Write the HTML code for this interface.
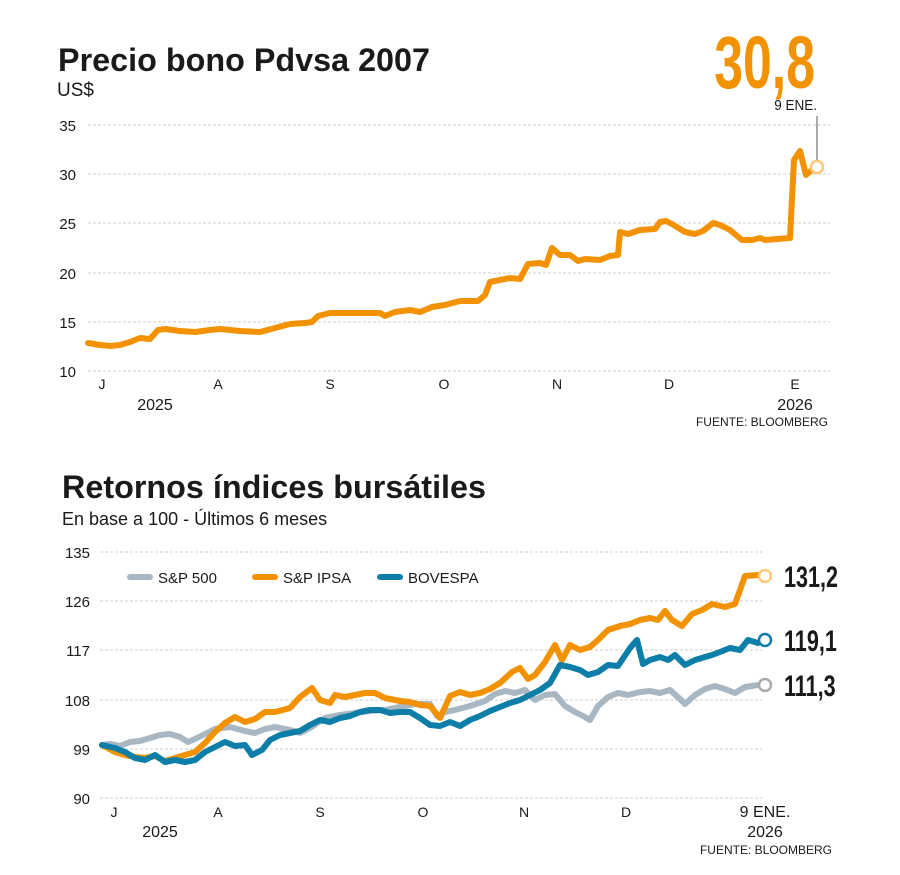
<!DOCTYPE html>
<html><head><meta charset="utf-8"><style>
body{margin:0;background:#fff;}
svg text{font-family:"Liberation Sans",sans-serif;}
.c{font-family:"Liberation Sans Narrow","Liberation Sans",sans-serif;}
</style></head><body>
<svg width="900" height="870" viewBox="0 0 900 870" xmlns="http://www.w3.org/2000/svg">
<text x="58" y="71" font-size="32" font-weight="bold" fill="#1a1a1a" textLength="372" lengthAdjust="spacingAndGlyphs">Precio bono Pdvsa 2007</text>
<text x="57" y="96" font-size="19" fill="#1a1a1a">US$</text>
<text x="815" y="88" font-size="74" font-weight="bold" fill="#f39200" text-anchor="end" class="c" transform="translate(815 0) scale(0.7 1) translate(-815 0)">30,8</text>
<text x="817" y="110" font-size="15" fill="#1a1a1a" text-anchor="end" transform="translate(817 0) scale(0.9 1) translate(-817 0)">9 ENE.</text>
<line x1="817" y1="116" x2="817" y2="160" stroke="#555" stroke-width="1"/>
<g stroke="#ccc" stroke-dasharray="3,2" stroke-width="1">
<line x1="88" y1="125" x2="830" y2="125"/><line x1="88" y1="174" x2="830" y2="174"/><line x1="88" y1="223" x2="830" y2="223"/><line x1="88" y1="273" x2="830" y2="273"/><line x1="88" y1="322" x2="830" y2="322"/><line x1="88" y1="371" x2="830" y2="371"/>
</g>
<g font-size="15" fill="#1a1a1a" text-anchor="end">
<text x="76" y="131">35</text><text x="76" y="180">30</text><text x="76" y="229">25</text><text x="76" y="279">20</text><text x="76" y="328">15</text><text x="76" y="377">10</text>
</g>
<g font-size="14" fill="#1a1a1a" text-anchor="middle">
<text x="102" y="389">J</text><text x="218" y="389">A</text><text x="330" y="389">S</text><text x="444" y="389">O</text><text x="557" y="389">N</text><text x="669" y="389">D</text><text x="795" y="389">E</text>
<text x="155" y="410" font-size="16">2025</text><text x="795" y="410" font-size="16">2026</text>
</g>
<text x="828" y="426" font-size="12" fill="#1a1a1a" text-anchor="end">FUENTE: BLOOMBERG</text>
<polyline fill="none" stroke="#f39200" stroke-width="6" stroke-linejoin="round" stroke-linecap="round" points="88,343 100,345 110,346 120,345 130,342 140,338 150,339 158,330 165,329 180,331 195,332 210,330 220,329 230,330 240,331 260,332 275,328 290,324 305,323 312,322 318,316 330,313 345,313 380,313 385,316 395,312 410,310 420,312 432,307 445,305 460,301 478,301 485,295 490,282 500,280 510,278 520,279 528,264 540,263 546,265 552,248 560,255 570,255 578,261 585,259 600,260 610,256 618,255 620,232 628,234 640,230 655,229 660,222 666,221 672,224 685,232 695,234 703,231 713,223 720,225 730,230 742,240 752,240 760,238 765,240 790,238 794,160 800,151 806,175 812,170"/>
<circle cx="817" cy="167" r="6" fill="#fff" stroke="#fcc97a" stroke-width="2.5"/>

<text x="62" y="498" font-size="32" font-weight="bold" fill="#1a1a1a" textLength="424" lengthAdjust="spacingAndGlyphs">Retornos índices bursátiles</text>
<text x="62" y="525" font-size="18" fill="#1a1a1a">En base a 100 - Últimos 6 meses</text>
<g stroke="#ccc" stroke-dasharray="3,2" stroke-width="1">
<line x1="100" y1="552" x2="762" y2="552"/><line x1="100" y1="601" x2="762" y2="601"/><line x1="100" y1="650" x2="762" y2="650"/><line x1="100" y1="700" x2="762" y2="700"/><line x1="100" y1="749" x2="762" y2="749"/><line x1="100" y1="798" x2="762" y2="798"/>
</g>
<g font-size="15" fill="#1a1a1a" text-anchor="end">
<text x="90" y="558">135</text><text x="90" y="607">126</text><text x="90" y="656">117</text><text x="90" y="706">108</text><text x="90" y="755">99</text><text x="90" y="804">90</text>
</g>
<g font-size="14" fill="#1a1a1a" text-anchor="middle">
<text x="114" y="817">J</text><text x="218" y="817">A</text><text x="320" y="817">S</text><text x="423" y="817">O</text><text x="524" y="817">N</text><text x="626" y="817">D</text><text x="765" y="817" font-size="16">9 ENE.</text>
<text x="160" y="837" font-size="16">2025</text><text x="765" y="837" font-size="16">2026</text>
</g>
<text x="832" y="854" font-size="12" fill="#1a1a1a" text-anchor="end">FUENTE: BLOOMBERG</text>
<g stroke-width="6" stroke-linecap="round">
<line x1="130" y1="577" x2="150" y2="577" stroke="#a9b7c3"/>
<line x1="255" y1="577" x2="275" y2="577" stroke="#f39200"/>
<line x1="380" y1="577" x2="400" y2="577" stroke="#0c7ea8"/>
</g>
<g font-size="15" fill="#1a1a1a">
<text x="158" y="583">S&amp;P 500</text><text x="283" y="583">S&amp;P IPSA</text><text x="408" y="583">BOVESPA</text>
</g>
<g fill="none" stroke-width="6" stroke-linejoin="round" stroke-linecap="round">
<polyline stroke="#a9b7c3" points="102,745 110,744 120,746 130,742 140,741 150,738 160,735 170,734 180,737 188,742 195,739 205,734 215,729 230,727 245,731 255,733 265,729 275,727 290,730 300,733 310,728 325,718 340,715 355,713 370,711 385,710 400,707 415,704 430,704 437,716 445,712 455,710 470,706 485,701 495,694 505,691 515,693 525,690 535,700 545,695 555,694 565,706 575,712 585,717 590,720 598,706 608,697 618,693 628,695 640,692 650,691 660,693 670,690 680,699 685,704 695,695 705,689 715,686 725,689 735,693 745,687 758,685"/>
<polyline stroke="#f39200" points="102,745 115,752 125,755 135,757 145,758 155,756 165,761 175,758 185,755 195,752 205,743 215,732 225,723 235,717 245,722 255,719 265,712 275,712 290,708 300,697 312,688 320,700 330,703 335,695 345,697 355,695 365,693 375,693 385,698 400,701 410,702 420,705 430,706 440,718 450,696 460,692 470,695 480,693 490,689 500,683 512,672 520,668 528,679 535,675 545,662 555,645 562,660 570,645 580,650 590,647 598,640 608,630 620,626 630,624 640,620 650,618 658,620 665,611 672,620 682,626 692,614 702,610 712,604 725,607 735,604 745,576 758,575"/>
<polyline stroke="#0c7ea8" points="102,745 115,748 125,752 135,758 145,760 155,755 165,762 175,760 185,762 195,760 205,752 215,747 225,742 235,746 245,745 252,755 262,750 270,740 280,735 290,733 300,731 310,725 320,720 330,722 340,718 350,716 360,712 370,710 380,710 390,713 400,712 410,712 420,718 430,725 440,726 450,722 460,726 470,720 480,716 490,711 500,707 510,703 520,700 530,695 540,690 550,683 560,665 570,667 580,670 588,675 598,672 608,665 618,666 630,648 637,640 643,664 650,660 660,657 668,660 675,655 685,665 695,660 705,657 712,655 720,652 730,648 740,650 748,640 758,643"/>
</g>
<circle cx="765" cy="576" r="6" fill="#fff" stroke="#fcc97a" stroke-width="2.5"/>
<circle cx="765" cy="640" r="6" fill="#fff" stroke="#0c7ea8" stroke-width="2.5"/>
<circle cx="765" cy="685" r="6" fill="#fff" stroke="#aaa" stroke-width="2.5"/>
<g font-size="30" font-weight="bold" fill="#1a1a1a" class="c">
<text x="784" y="587" transform="translate(784 0) scale(0.72 1) translate(-784 0)">131,2</text>
<text x="784" y="651" transform="translate(784 0) scale(0.72 1) translate(-784 0)">119,1</text>
<text x="784" y="696" transform="translate(784 0) scale(0.72 1) translate(-784 0)">111,3</text>
</g>
</svg>
</body></html>
